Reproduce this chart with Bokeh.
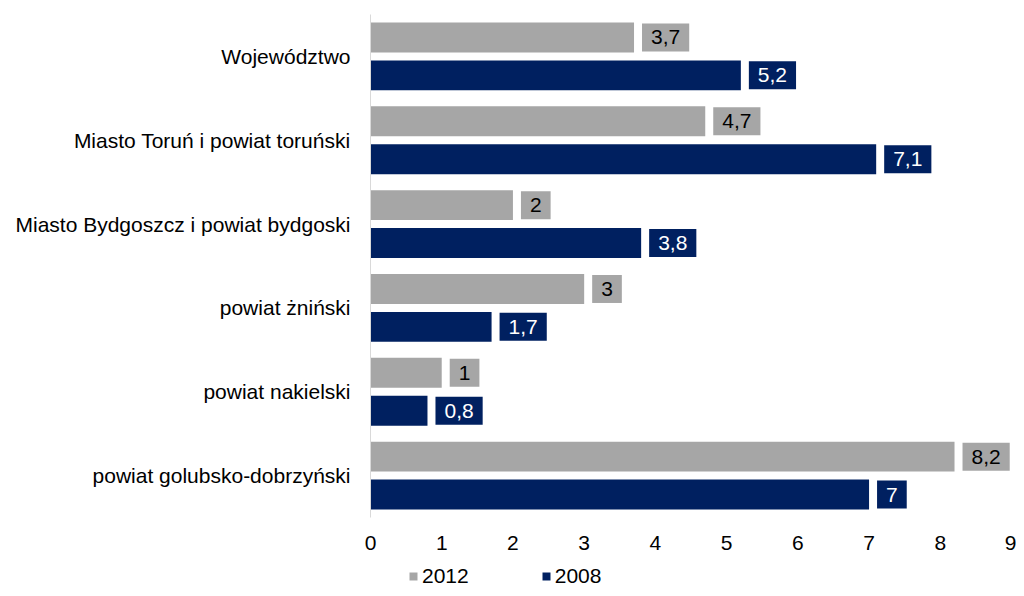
from bokeh.plotting import figure
from bokeh.models import FactorRange, Range1d, Legend, LegendItem, ColumnDataSource
from bokeh.layouts import column
from bokeh.transform import dodge
from bokeh.embed import file_html
from bokeh.resources import INLINE
from bokeh.core.properties import value

categories = ["Województwo", "Miasto Toruń i powiat toruński", "Miasto Bydgoszcz i powiat bydgoski",
              "powiat żniński", "powiat nakielski", "powiat golubsko-dobrzyński"]
series = ["2012", "2008"]
v2012 = [3.7, 4.7, 2, 3, 1, 8.2]
v2008 = [5.2, 7.1, 3.8, 1.7, 0.8, 7]
x_ticks = list(range(0, 10))

GRAY = "#a6a6a6"
NAVY = "#002060"
FONT = "Liberation Sans"
FS = "21px"

def fmt(v):
    return f"{v:g}".replace(".", ",")

src = ColumnDataSource(dict(cat=categories, v2012=v2012, v2008=v2008,
                            l2012=[fmt(v) for v in v2012], l2008=[fmt(v) for v in v2008]))

p = figure(width=1016, height=560, output_backend="svg", toolbar_location=None,
           y_range=FactorRange(factors=list(reversed(categories)), range_padding=0),
           x_range=Range1d(0, 9), min_border_left=370, min_border_right=5,
           min_border_top=14, min_border_bottom=43)
p.outline_line_color = None
p.grid.grid_line_color = None
p.background_fill_color = "white"

p.hbar(y=dodge("cat", 0.226, range=p.y_range), right="v2012", left=0, height=0.357,
       source=src, fill_color=GRAY, line_color=None)
p.hbar(y=dodge("cat", -0.226, range=p.y_range), right="v2008", left=0, height=0.357,
       source=src, fill_color=NAVY, line_color=None)

p.text(x="v2012", y=dodge("cat", 0.226, range=p.y_range), text="l2012", source=src,
       x_offset=8, text_baseline="middle", text_align="left", text_color="#000000",
       text_font=value(FONT), text_font_size=FS,
       background_fill_color=GRAY, padding=(9, 7))
p.text(x="v2008", y=dodge("cat", -0.226, range=p.y_range), text="l2008", source=src,
       x_offset=8, text_baseline="middle", text_align="left", text_color="#ffffff",
       text_font=value(FONT), text_font_size=FS,
       background_fill_color=NAVY, padding=(9, 7))

p.xaxis.ticker = x_ticks
p.xaxis.axis_line_color = None
p.xaxis.major_tick_line_color = None
p.xaxis.minor_tick_line_color = None
p.xaxis.major_label_standoff = 12
p.xaxis.major_label_text_font = FONT
p.xaxis.major_label_text_font_size = FS
p.xaxis.major_label_text_color = "#000000"

p.yaxis.axis_line_color = "#d9d9d9"
p.yaxis.major_tick_line_color = None
p.yaxis.minor_tick_line_color = None
p.yaxis.major_label_standoff = 14
p.yaxis.major_label_text_font = FONT
p.yaxis.major_label_text_font_size = FS
p.yaxis.major_label_text_color = "#000000"

# legend strip: its bars have zero height and lie outside its x range; only the legend shows
lp = figure(width=1016, height=28, output_backend="svg", toolbar_location=None,
            x_range=Range1d(-20, -19), y_range=FactorRange(factors=categories), min_border=0)
lp.outline_line_color = None
lp.axis.visible = False
lp.grid.visible = False
l1 = lp.hbar(y="cat", right="v2012", left="v2012", height=0, source=src,
             fill_color=GRAY, line_color=None)
l2 = lp.hbar(y="cat", right="v2008", left="v2008", height=0, source=src,
             fill_color=NAVY, line_color=None)
legend = Legend(items=[LegendItem(label=series[0], renderers=[l1]),
                       LegendItem(label=series[1], renderers=[l2])],
                orientation="horizontal", location=(38, 0),
                glyph_width=10, glyph_height=10, label_standoff=4, spacing=72,
                padding=0, margin=0, border_line_color=None, background_fill_alpha=0,
                label_text_font=FONT, label_text_font_size=FS, label_text_color="#000000",
                label_height=20)
lp.add_layout(legend, "center")

open("out.html", "w").write(file_html(column(p, lp, spacing=0), INLINE))
